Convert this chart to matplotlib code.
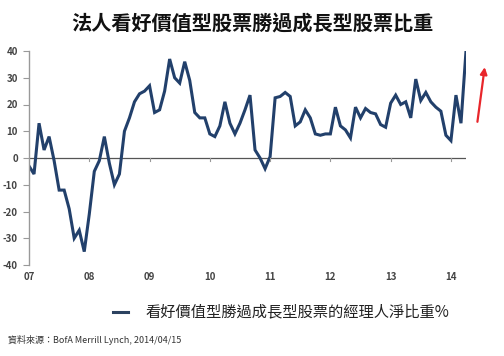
import matplotlib
matplotlib.use("Agg")
import matplotlib.pyplot as plt

plt.rcParams['font.family'] = ['Noto Sans CJK TC', 'DejaVu Sans']

# Dane: miesieczne, od 2007/01 do 2014/04
values = [-3, -6, 13, 3, 8, -1, -12, -12, -19, -30, -27, -35,
          -21, -5, -1, 8, -2, -10, -6, 10, 15, 21, 24, 25,
          27, 17, 18, 25, 37, 30, 28, 36, 29, 17, 15, 15,
          9, 8, 12, 21, 13, 9, 13, 18, 23.5, 3, 0, -4,
          0.5, 22.5, 23, 24.5, 23, 12, 13.5, 18, 15, 9, 8.5, 9,
          9, 19, 12, 10.5, 7.5, 19, 15, 18.5, 17, 16.5, 12.5, 11.5,
          20.5, 23.5, 20, 21, 15, 29.5, 21.5, 24.5, 21, 19, 17.5, 8.5,
          6.5, 23.5, 13, 40]
year_labels = ['07', '08', '09', '10', '11', '12', '13', '14']
y_ticks = [40, 30, 20, 10, 0, -10, -20, -30, -40]
title = '法人看好價值型股票勝過成長型股票比重'
legend_text = '看好價值型勝過成長型股票的經理人淨比重%'
source = '資料來源：BofA Merrill Lynch, 2014/04/15'

line_color = '#22406b'

fig = plt.figure(figsize=(5.04, 3.56), dpi=100)
ax = fig.add_axes([29 / 504, 1 - 265 / 356, (466 - 29) / 504, (265 - 51) / 356])

months = list(range(len(values)))
ax.plot(months, values, color=line_color, lw=2.2, solid_joinstyle='miter')
ax.axhline(0, color='#555555', lw=0.9, zorder=1)

ax.set_xlim(0, len(values) - 1)
ax.set_ylim(-40, 40)

for s in ['top', 'right', 'bottom']:
    ax.spines[s].set_visible(False)
ax.spines['left'].set_color('#999999')
ax.spines['left'].set_linewidth(1.0)

ax.set_yticks(y_ticks)
ax.set_yticklabels([str(v) for v in y_ticks])
ax.tick_params(axis='y', direction='out', length=4, width=0.8, color='#999999',
               labelsize=7, labelcolor='#444444', pad=4)
for lab in ax.get_yticklabels():
    lab.set_fontweight('bold')

# znaczniki lat na linii zero, etykiety pod wykresem
ax.set_xticks([])
tick_pos = [12 * k for k in range(len(year_labels))]
for k, p in enumerate(tick_pos):
    if k > 0:
        ax.plot([p, p], [0, -1.2], color='#999999', lw=0.8, clip_on=False)
    ax.text(p, -44.5, year_labels[k], ha='center', va='center', fontsize=7,
            color='#444444', fontweight='bold')

# czerwona strzalka
ax.annotate('', xy=(90.8, 35), xytext=(89.2, 12.5),
            arrowprops=dict(arrowstyle='-|>', color='#e8262b', lw=1.6,
                            mutation_scale=10),
            annotation_clip=False)

fig.text(0.5, 1 - 23 / 356, title, ha='center', va='center', fontsize=14.5,
         fontweight='bold', color='#111111')

# legenda
fig.lines.append(plt.Line2D([113 / 504, 128 / 504], [1 - 312 / 356, 1 - 312 / 356],
                            transform=fig.transFigure, color='#2c4260', lw=2.2))
fig.text(146 / 504, 1 - 312 / 356, legend_text, ha='left', va='center',
         fontsize=11, color='#222222')

fig.text(8 / 504, 1 - 340 / 356, source, ha='left', va='center', fontsize=6.5,
         color='#333333')

fig.savefig('out.png', dpi=100)
